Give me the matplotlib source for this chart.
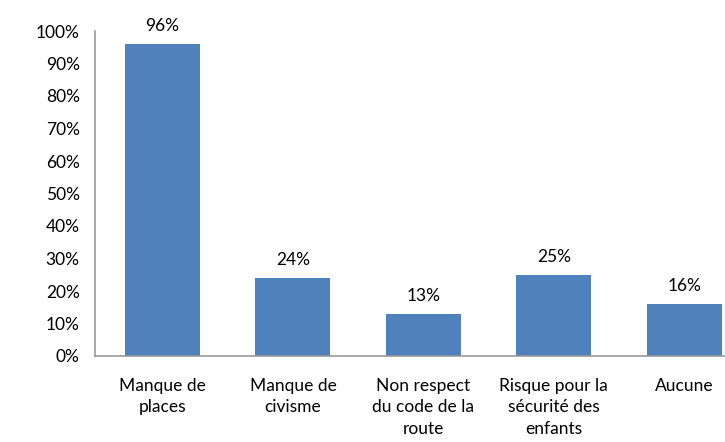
import matplotlib.pyplot as plt

categories = ["Manque de\nplaces", "Manque de\ncivisme", "Non respect\ndu code de la\nroute",
              "Risque pour la\nsécurité des\nenfants", "Aucune"]
values = [0.96, 0.24, 0.13, 0.25, 0.16]
labels = ["96%", "24%", "13%", "25%", "16%"]

plt.rcParams['font.family'] = ['Lato', 'DejaVu Sans']

fig = plt.figure(figsize=(7.25, 4.42), dpi=100)
ax = fig.add_axes([95 / 725, 1 - 356 / 442, 652 / 725, 325 / 442])

x = range(len(categories))
bars = ax.bar(x, values, width=0.575, color="#4F81BD")
for b, lab in zip(bars, labels):
    ax.text(b.get_x() + b.get_width() / 2, b.get_height() + 0.03, lab,
            ha="center", va="bottom", fontsize=12.5)

ax.set_xlim(-0.518, len(categories) - 0.518)
ax.set_ylim(0, 1.0)
ax.set_yticks([i / 10 for i in range(11)])
ax.set_yticklabels([f"{i * 10}%" for i in range(11)], fontsize=12.5)
ax.set_xticks(list(x))
ax.set_xticklabels(categories, fontsize=12.5, linespacing=1.4, va="top")
ax.tick_params(axis="y", length=0, pad=11)
ax.tick_params(axis="x", length=0, pad=16)

for s in ["top", "right"]:
    ax.spines[s].set_visible(False)
for s in ["left", "bottom"]:
    ax.spines[s].set_color("#999999")
    ax.spines[s].set_linewidth(1.2)

fig.savefig("out.png", dpi=100)
